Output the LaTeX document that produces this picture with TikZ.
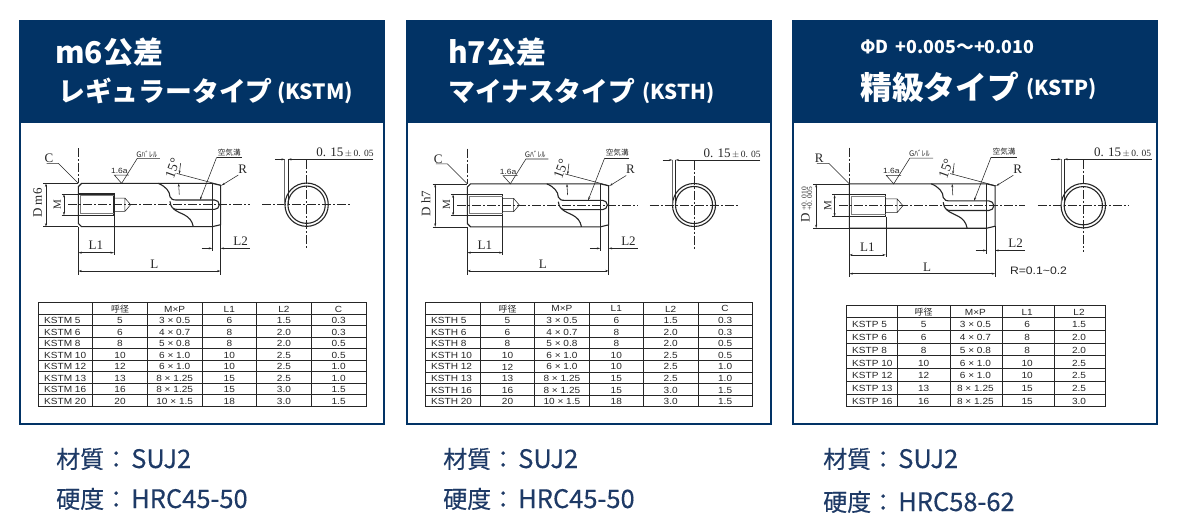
\documentclass[tikz,border=0pt]{standalone}
\usepackage{fontspec}
\usetikzlibrary{arrows.meta}
\setmainfont{Liberation Serif}
\newfontfamily\jpf{Noto Sans CJK JP}
\newfontfamily\jpm[FakeBold=0.3]{Noto Sans CJK JP}
\newfontfamily\arl[FakeStretch=1.13]{Liberation Sans}
\definecolor{navy}{HTML}{023365}
\definecolor{ink}{HTML}{262626}
\definecolor{labelc}{HTML}{1E3A66}
\newcommand\fz[1]{\fontsize{#1}{#1}\selectfont}
\newcommand\ltn[1]{\hspace{3pt}{\fz{25.5}#1}}
\tikzset{
  frame/.style={draw=navy,line width=2pt,fill=white},
  head/.style={fill=navy,draw=navy,line width=2pt},
  htxt/.style={anchor=base west,text=white,inner sep=0pt,font=\jpf\bfseries},
  foot/.style={anchor=base west,text=labelc,inner sep=0pt,font=\jpm\fz{24}},
  pinline/.style={draw=ink,line width=1.1pt},
  thin/.style={draw=ink,line width=.55pt},
  dimline/.style={draw=ink,line width=.55pt,{Stealth[length=3.5pt,width=2pt]}-{Stealth[length=3.5pt,width=2pt]}},
  dimend/.style={draw=ink,line width=.55pt,-{Stealth[length=3.5pt,width=2pt]}},
  axis/.style={draw=ink,line width=.55pt,dash pattern=on 9pt off 2pt on 2pt off 2pt},
  dl/.style={text=ink,inner sep=0pt,font=\fz{13}},
  tcell/.style={text=ink,inner sep=0pt,font=\arl\fz{8.9}},
  tgrid/.style={draw=ink,line width=.8pt},
  small/.style={text=ink,inner sep=0pt,font=\jpf\fz{7.6}},
}
% #1 prefix, #2 x, #3 y, #4 scale, #5 corner letter, #6 chamfer, #7 D label
\newcommand\pindrawing[7]{%
\begin{scope}[shift={(#2,#3)},x=#4*0.3333pt,y=-#4*0.3333pt]
  % body
  \draw[pinline] (#6,-64) -- (402,-64) -- (427,-58) -- (427,60) -- (402,66) -- (#6,66) -- (0,{66-#6}) -- (0,{-64+#6}) -- cycle;
  \draw[thin] (402,-64) -- (402,66);
  % threaded hole
  \draw[pinline] (0,-32) rectangle (107,32);
  \draw[draw=ink!60,line width=1pt] (6,-27) -- (107,-27) (6,27) -- (107,27) (6,-27) -- (6,27);
  \draw[thin] (107,-20) -- (140,-20) -- (157,0) -- (140,20) -- (107,20) (140,-20) -- (140,20);
  % air groove
  \draw[pinline] (240,-64) .. controls (262,-55) and (275,-40) .. (275,-24) .. controls (277,-16) and (285,-14) .. (295,-14) -- (409,-14) arc[start angle=-90,end angle=90,radius=14] -- (295,14) .. controls (285,14) and (277,8) .. (275,-10);
  \draw[pinline] (285,12) .. controls (305,30) and (338,28) .. (345,66);
  % centre lines
  \draw[axis] (-30,0) -- (515,0);
  \draw[axis] (0,-170) -- (0,-64);
  \draw[axis] (552,0) -- (820,0);
  \draw[axis] (685,-134) -- (685,136);
  % end view
  \draw[pinline] (685,0) circle[radius=65];
  \draw[pinline] (685,0) circle[radius=56];
  \draw[draw=ink!70,line width=.9pt] (620,-136) -- (620,0);
  \draw[thin] (629,-136) -- (629,0);
  \draw[dimend] (590,-136) -- (620,-136);
  \draw[dimend] (885,-136) -- (629,-136);
  \node[dl] (#1-tol) at (800,-156) {0. 15{\fz{9.5}$\,\pm\,$0. 05}};
  % D and M dimensions
  \draw[thin] (-105,-64) -- (0,-64) (-105,66) -- (0,66) (-50,-32) -- (0,-32) (-50,32) -- (0,32);
  \draw[dimline] (-97,-64) -- (-97,66);
  \draw[dimline] (-43,-32) -- (-43,32);
  \node[dl,rotate=90] (#1-m) at (-63,0) {\fz{11}M};
  #7
  % corner label
  \coordinate (#1-ctip) at (0,-64);
  \node[dl] (#1-c) at (-88,-139) {#5};
  \draw[thin] (-95,-124) -- (-60,-124) -- (#1-ctip);
  % surface finish
  \coordinate (#1-stip) at (130,-64);
  \node[small] (#1-g) at (205,-152) {Gﾊﾞﾚﾙ};
  \node[text=ink,inner sep=0pt,font=\arl\fz{7.5}] (#1-ra) at (123,-101) {1.6a};
  \draw[thin] (245,-139) -- (177,-139) -- (#1-stip) -- (108,-89) -- (152,-89);
  % air groove label
  \coordinate (#1-atip) at (365,-14);
  \node[small] (#1-air) at (453,-157) {空気溝};
  \draw[thin] (490,-142) -- (415,-142);
  \draw[dimend] (415,-142) -- (#1-atip);
  % 15 degrees
  \node[dl,rotate=70,font=\fz{14}] (#1-deg) at (283,-109) {15°};
  \coordinate (#1-rtip) at (430,-58);
  \draw[thin] (295,-94) -- (#1-rtip);
  \draw[dimend] (307,-125) -- (303,-92);
  \draw[dimend] (303,-30) -- (301,-64);
  % R label
  \node[dl] (#1-r) at (493,-107) {R};
  \draw[dimend] (480,-89) -- (#1-rtip);
  % length dimensions
  \draw[thin] (107,32) -- (107,150) (0,66) -- (0,210) (427,60) -- (427,210) (402,66) -- (402,140);
  \draw[dimline] (0,144) -- (107,144);
  \draw[dimline] (0,199) -- (427,199);
  \draw[dimend] (370,131) -- (402,131);
  \draw[dimend] (515,131) -- (427,131);
  \node[dl] (#1-l1) at (53,121) {L1};
  \node[dl] (#1-l) at (228,179) {L};
  \node[dl] (#1-l2) at (487,109) {L2};
\end{scope}}
% grid: #1 x-coordinates (comma list), #2 y top, #3 y bottom, #4 rows, #5 xleft, #6 xright
\newcommand\tablegrid[6]{%
  \draw[tgrid,line width=1pt] (#5,#2) rectangle (#6,#3);
  \foreach \vx in {#1} \draw[tgrid] (\vx,#2) -- (\vx,#3);
  \foreach \rw in {1,...,#4} \draw[tgrid] (#5,{#2+(#3-#2)*\rw/(#4+1)}) -- (#6,{#2+(#3-#2)*\rw/(#4+1)});
}
\begin{document}
\begin{tikzpicture}[x=1pt,y=-1pt]
\useasboundingbox (0,0) rectangle (1181,532);
% ---------- panels
\draw[frame] (20,21) rectangle (384,424);
\draw[head] (20,21) rectangle (384,122);
\draw[frame] (407,21) rectangle (771,424);
\draw[head] (407,21) rectangle (771,122);
\draw[frame] (793,21) rectangle (1157,424);
\draw[head] (793,21) rectangle (1157,122);
% ---------- headers
\node[htxt,font=\jpf\bfseries\fz{30}] (t1a) at (55,64) {m6公差};
\node[htxt,font=\jpf\bfseries\fz{26.8}] (t1b) at (58,102) {レギュラータイプ};
\node[htxt,font=\jpf\bfseries\fz{21}] (t1c) at (277,100) {(KSTM)};
\node[htxt,font=\jpf\bfseries\fz{30}] (t2a) at (448,64) {h7公差};
\node[htxt,font=\jpf\bfseries\fz{26.8}] (t2b) at (448,102) {マイナスタイプ};
\node[htxt,font=\jpf\bfseries\fz{20.5}] (t2c) at (642,100) {(KSTH)};
\node[htxt,font=\jpf\bfseries\fz{17.8}] (t3a) at (860,54) {ΦD\hspace{7pt}+0.005～+0.010};
\node[htxt,font=\jpf\bfseries\fz{31.8}] (t3b) at (860,100) {精級タイプ};
\node[htxt,font=\jpf\bfseries\fz{20.5}] (t3c) at (1026,96) {(KSTP)};
% ---------- drawings
\pindrawing{a}{78.3}{204.7}{1}{C}{10}{\node[dl,rotate=90] (a-d) at (-122,-5) {D m6};}
\pindrawing{b}{467.3}{205}{0.993}{C}{10}{\node[dl,rotate=90] (b-d) at (-125,-5) {D h7};}
\pindrawing{c}{849.3}{205.7}{1.025}{R}{0}{\node[dl,rotate=90] (c-d) at (-122,-3) {D\,{\fz{7.5}\begin{tabular}{@{}l@{}}+0. 010\\[-2pt]+0. 005\end{tabular}}};}
\node[inner sep=0pt,text=ink,font=\arl\fz{10.8}] (c-rr) at (1038.5,271) {R=0.1\textasciitilde0.2};
% ---------- tables
\tablegrid{92.7,147.3,202,256.7,311.3}{302.7}{406}{8}{38.3}{366}
\foreach \rowlist [count=\ri from 0] in {
 {,呼径,M×P,L1,L2,C},
 {KSTM 5,5,3 × 0.5,6,1.5,0.3},
 {KSTM 6,6,4 × 0.7,8,2.0,0.3},
 {KSTM 8,8,5 × 0.8,8,2.0,0.5},
 {KSTM 10,10,6 × 1.0,10,2.5,0.5},
 {KSTM 12,12,6 × 1.0,10,2.5,1.0},
 {KSTM 13,13,8 × 1.25,15,2.5,1.0},
 {KSTM 16,16,8 × 1.25,15,3.0,1.5},
 {KSTM 20,20,10 × 1.5,18,3.0,1.5}}{
  \foreach \cell [count=\ci from 0] in \rowlist {
    \ifnum\ci=0
      \node[tcell,anchor=west] (ta-\ri-\ci) at (44,{302.7+(\ri+.5)*11.48+.8}) {\cell};
    \else
      \node[tcell] (ta-\ri-\ci) at ({92.7+(\ci-.5)*54.65},{302.7+(\ri+.5)*11.48+.8}) {\ifnum\ri=0\ifnum\ci=1\jpf\fi\fi\cell};
    \fi
  }
}
\tablegrid{480.3,534.7,589.2,643.6,698}{302.3}{406.7}{8}{425.7}{752.3}
\foreach \rowlist [count=\ri from 0] in {
 {,呼径,M×P,L1,L2,C},
 {KSTH 5,5,3 × 0.5,6,1.5,0.3},
 {KSTH 6,6,4 × 0.7,8,2.0,0.3},
 {KSTH 8,8,5 × 0.8,8,2.0,0.5},
 {KSTH 10,10,6 × 1.0,10,2.5,0.5},
 {KSTH 12,12,6 × 1.0,10,2.5,1.0},
 {KSTH 13,13,8 × 1.25,15,2.5,1.0},
 {KSTH 16,16,8 × 1.25,15,3.0,1.5},
 {KSTH 20,20,10 × 1.5,18,3.0,1.5}}{
  \foreach \cell [count=\ci from 0] in \rowlist {
    \ifnum\ci=0
      \node[tcell,anchor=west] (tb-\ri-\ci) at (431,{302.3+(\ri+.5)*11.6+.8}) {\cell};
    \else
      \node[tcell] (tb-\ri-\ci) at ({480.3+(\ci-.5)*54.4},{302.3+(\ri+.5)*11.6+.8}) {\ifnum\ri=0\ifnum\ci=1\jpf\fi\fi\cell};
    \fi
  }
}
\tablegrid{897.7,950,1002.3,1054}{305}{406.7}{7}{846.7}{1105}
\foreach \rowlist [count=\ri from 0] in {
 {,呼径,M×P,L1,L2},
 {KSTP 5,5,3 × 0.5,6,1.5},
 {KSTP 6,6,4 × 0.7,8,2.0},
 {KSTP 8,8,5 × 0.8,8,2.0},
 {KSTP 10,10,6 × 1.0,10,2.5},
 {KSTP 12,12,6 × 1.0,10,2.5},
 {KSTP 13,13,8 × 1.25,15,2.5},
 {KSTP 16,16,8 × 1.25,15,3.0}}{
  \foreach \cell [count=\ci from 0] in \rowlist {
    \ifnum\ci=0
      \node[tcell,anchor=west] (tc-\ri-\ci) at (852,{305+(\ri+.5)*12.71+.8}) {\cell};
    \else
      \node[tcell] (tc-\ri-\ci) at ({897.7+(\ci-.5)*51.8},{305+(\ri+.5)*12.71+.8}) {\ifnum\ri=0\ifnum\ci=1\jpf\fi\fi\cell};
    \fi
  }
}
% ---------- footers
\node[foot] (f1a) at (56,468) {材質：\ltn{SUJ2}};
\node[foot] (f1b) at (56,508) {硬度：\ltn{HRC45-50}};
\node[foot] (f2a) at (443,468) {材質：\ltn{SUJ2}};
\node[foot] (f2b) at (443,508) {硬度：\ltn{HRC45-50}};
\node[foot] (f3a) at (823,468) {材質：\ltn{SUJ2}};
\node[foot] (f3b) at (823,511) {硬度：\ltn{HRC58-62}};
\end{tikzpicture}
\end{document}
